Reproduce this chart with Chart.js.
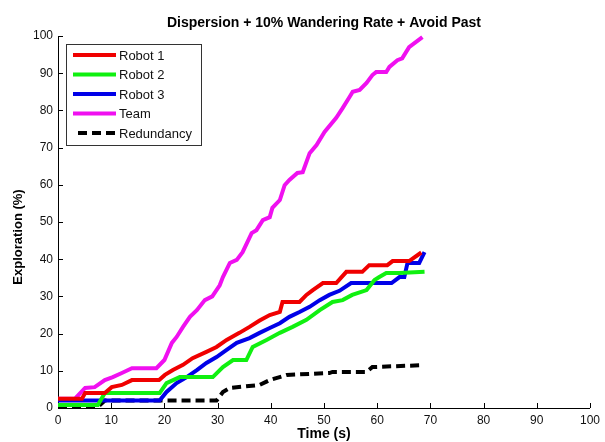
<!DOCTYPE html>
<html>
<head>
<meta charset="utf-8">
<script src="https://cdn.jsdelivr.net/npm/chart.js@4.4.1/dist/chart.umd.min.js"></script>
<style>
    body { margin: 0; background: #fff; }
    #wrap { width: 605px; height: 442px; }
</style>
</head>
<body>
<div id="wrap"><canvas id="explorationChart" width="605" height="442"></canvas></div>
<script>
// values: time (s) / exploration (%)
const robot1Time = [0, 4.5, 5.1, 8.8, 10.1, 12, 13.9, 19, 20.1, 21.6, 23.5, 25.3, 27.9, 29.8, 31.7, 34.1, 36, 37.9, 39.8, 41.7, 42.2, 45.4, 46.7, 47.9, 49.8, 52.3, 54.2, 57.2, 58.5, 61.9, 62.9, 66, 67.9, 68.3];
const robot1Expl = [2.5, 2.5, 4, 4, 5.6, 6.2, 7.5, 7.5, 8.9, 10.2, 11.6, 13.4, 15.1, 16.4, 18.3, 20.2, 21.8, 23.5, 25, 25.8, 28.5, 28.5, 30.4, 31.7, 33.6, 33.6, 36.6, 36.6, 38.4, 38.4, 39.5, 39.5, 41.4, 41.8];

const robot2Time = [0, 7.5, 8.8, 19.1, 20.4, 22.9, 29.1, 31, 32.9, 35.4, 36.6, 39.2, 41.7, 44.1, 46.7, 49.2, 51.6, 53.5, 55.3, 58, 59.5, 60.4, 61.7, 64.2, 68.9];
const robot2Expl = [0.8, 0.8, 4, 4, 6.7, 8.3, 8.3, 11, 12.9, 12.9, 16.4, 18.3, 20.2, 21.8, 23.7, 26.3, 28.5, 29, 30.4, 31.7, 34.4, 35.2, 36.3, 36.3, 36.6];

const robot3Time = [0, 19.1, 20.4, 22.3, 24.2, 26.1, 27.9, 29.8, 31.7, 33.6, 36, 37.9, 39.8, 41.7, 43.5, 45.4, 47.3, 49.2, 51, 52.9, 55.1, 62.7, 64.2, 65.1, 65.7, 67.9, 68.9];
const robot3Expl = [2, 2, 4.3, 6.7, 8.3, 10.2, 12.1, 13.7, 15.6, 17.5, 18.8, 20.2, 21.5, 22.8, 24.5, 25.8, 27.2, 29, 30.4, 31.5, 33.6, 33.6, 35.2, 35.2, 39, 39, 41.9];

const teamTime = [0, 3.2, 5.1, 6.9, 8.8, 10.3, 12, 13.9, 18.5, 20, 21.4, 22.3, 23.5, 24.8, 26.1, 27.6, 29, 30.4, 31, 32.3, 33.6, 34.7, 36.4, 37.3, 38.5, 39.8, 40.3, 41.7, 42.6, 43.5, 45, 46, 47.3, 48.6, 50.1, 52.3, 53.5, 54.8, 55.4, 56.7, 58, 59.1, 59.8, 61.7, 62.3, 63.8, 64.7, 66, 68.5];
const teamExpl = [2.5, 2.5, 5.4, 5.6, 7.5, 8.3, 9.4, 10.7, 10.7, 12.9, 17.5, 19.1, 21.8, 24.5, 26.3, 29, 30, 33, 35.2, 39, 39.8, 41.9, 47, 47.8, 50.5, 51.3, 53.8, 55.9, 59.9, 61.3, 63.2, 63.4, 68.5, 70.7, 74.2, 78, 80.6, 83.6, 85, 85.5, 87.4, 89.5, 90.3, 90.3, 91.7, 93.5, 94, 97, 99.7];

const redundancyTime = [0, 7.5, 8.8, 29.8, 31, 32.3, 37.9, 39.8, 43, 51, 51.6, 58, 59.1, 68.3];
const redundancyExpl = [0.3, 0.3, 2, 2, 4.3, 5.4, 6.2, 7.5, 8.9, 9.4, 9.7, 9.7, 11, 11.5];

const axisTicks = [0, 10, 20, 30, 40, 50, 60, 70, 80, 90, 100];


function toPoints(xs, ys) {
    return xs.map((x, i) => ({ x: x, y: ys[i] }));
}

function lineSet(label, color, xs, ys, dash) {
    return {
        label: label,
        data: toPoints(xs, ys),
        borderColor: color,
        backgroundColor: color,
        borderWidth: 4,
        borderDash: dash || [],
        pointRadius: 0,
        tension: 0,
        clip: false,
    };
}

const tickFont = "'Liberation Sans', Arial, sans-serif";

// MATLAB style: ticks point into the axes
const innerTicks = {
    id: 'innerTicks',
    beforeDatasetsDraw(chart) {
        const ctx = chart.ctx;
        const x = chart.scales.x;
        const y = chart.scales.y;
        const area = chart.chartArea;
        ctx.save();
        ctx.strokeStyle = '#000';
        ctx.lineWidth = 1;
        ctx.beginPath();
        axisTicks.forEach(v => {
            const px = Math.round(x.getPixelForValue(v)) + 0.5;
            ctx.moveTo(px, area.bottom);
            ctx.lineTo(px, area.bottom - 5);
            const py = Math.round(y.getPixelForValue(v)) + 0.5;
            ctx.moveTo(area.left, py);
            ctx.lineTo(area.left + 5, py);
        });
        ctx.stroke();
        ctx.restore();
    }
};

const titleAndLegend = {
    id: 'titleAndLegend',
    afterDraw(chart) {
        const ctx = chart.ctx;
        const area = chart.chartArea;
        ctx.save();

        ctx.fillStyle = '#000';
        ctx.font = "bold 14px " + tickFont;
        ctx.textAlign = 'center';
        ctx.textBaseline = 'middle';
        ctx.fillText('Dispersion + 10% Wandering Rate + Avoid Past', (area.left + area.right) / 2, 23);

        ctx.save();
        ctx.translate(18, 237);
        ctx.rotate(-Math.PI / 2);
        ctx.font = "bold 13px " + tickFont;
        ctx.fillText('Exploration (%)', 0, 0);
        ctx.restore();

        // legend box, top left inside the axes
        ctx.fillStyle = '#fff';
        ctx.fillRect(66, 44, 135, 101);
        ctx.strokeStyle = '#333';
        ctx.lineWidth = 1;
        ctx.strokeRect(66.5, 44.5, 135, 101);

        ctx.font = "13px " + tickFont;
        ctx.textAlign = 'left';
        chart.data.datasets.forEach((ds, i) => {
            const rowY = 55 + i * 19.5;
            ctx.strokeStyle = ds.borderColor;
            ctx.lineWidth = 4;
            ctx.setLineDash(ds.borderDash);
            ctx.beginPath();
            ctx.moveTo(ds.borderDash.length ? 78 : 73, rowY);
            ctx.lineTo(116, rowY);
            ctx.stroke();
            ctx.setLineDash([]);
            ctx.fillStyle = '#111';
            ctx.fillText(ds.label, 119, rowY + 1);
        });
        ctx.restore();
    }
};


const explorationData = {
    datasets: [
        lineSet('Robot 1', '#f00000', robot1Time, robot1Expl),
        lineSet('Robot 2', '#10f010', robot2Time, robot2Expl),
        lineSet('Robot 3', '#0000e8', robot3Time, robot3Expl),
        lineSet('Team', '#f010f0', teamTime, teamExpl),
        lineSet('Redundancy', '#000000', redundancyTime, redundancyExpl, [9, 5]),
    ]
};

const explorationConfig = {
    type: 'line',
    data: explorationData,
    options: {
        responsive: false,
        animation: false,
        layout: {
            padding: { top: 36, right: 14, left: 0, bottom: 0 }
        },
        plugins: {
            legend: { display: false },
            tooltip: { enabled: false },
        },
        scales: {
            x: {
                type: 'linear',
                min: 0,
                max: 100,
                afterFit: (scale) => { scale.height = 34; },
                afterBuildTicks: (scale) => { scale.ticks = axisTicks.map(v => ({ value: v })); },
                grid: { display: false, drawTicks: false, tickLength: 0 },
                border: { display: true, color: '#000', width: 1 },
                ticks: {
                    color: '#111',
                    font: { family: tickFont, size: 12 },
                    padding: 5,
                    maxRotation: 0,
                    autoSkip: false,
                },
                title: {
                    display: true,
                    text: 'Time (s)',
                    color: '#000',
                    font: { family: tickFont, size: 14, weight: 'bold' },
                    padding: { top: 0, bottom: -1 },
                },
            },
            y: {
                type: 'linear',
                min: 0,
                max: 100,
                afterFit: (scale) => { scale.width = 58; },
                afterBuildTicks: (scale) => { scale.ticks = axisTicks.map(v => ({ value: v })); },
                grid: { display: false, drawTicks: false, tickLength: 0 },
                border: { display: true, color: '#000', width: 1 },
                ticks: {
                    color: '#111',
                    font: { family: tickFont, size: 12 },
                    padding: 5,
                    autoSkip: false,
                },
            },
        },
    },
    plugins: [innerTicks, titleAndLegend],
};

const explorationChart = new Chart(
    document.getElementById('explorationChart'),
    explorationConfig
);
</script>
</body>
</html>
